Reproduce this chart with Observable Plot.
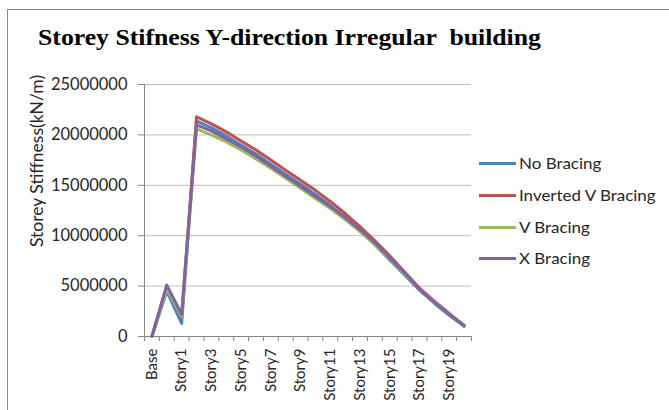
<!DOCTYPE html>
<html><head><meta charset="utf-8">
<script src="https://cdn.jsdelivr.net/npm/d3@7"></script>
<script src="https://cdn.jsdelivr.net/npm/@observablehq/plot@0.6"></script>
<style>
body{margin:0;background:#fff;}
#wrap{position:relative;width:669px;height:410px;overflow:hidden;font-family:Lato,"Open Sans",sans-serif;}
#frame{position:absolute;left:7px;top:9px;width:700px;height:450px;border:1px solid #8a8a8a;}
#title{position:absolute;left:38px;top:24px;line-height:1;font:bold 24px "Liberation Serif","Times New Roman",serif;color:#000;white-space:pre;transform:scaleX(1.072);transform-origin:0 0;}
#ytitle{position:absolute;left:36px;top:161px;transform:translate(-50%,-50%) rotate(-90deg);font-size:17.5px;color:#262626;white-space:nowrap;}
.item{position:absolute;left:479px;display:flex;align-items:center;white-space:nowrap;font-size:15px;color:#262626;}
.sw{width:37px;height:3px;margin-right:3px;}
.tx{display:inline-block;transform:scaleX(1.13);transform-origin:0 50%;}
#chart{position:absolute;left:0;top:0;}
</style></head>
<body>
<div id="wrap">
  <div id="frame"></div>
  <div id="chart"></div>
  <div id="title">Storey Stifness Y-direction Irregular  building</div>
  <div id="ytitle">Storey Stiffness(kN/m)</div>
  <div id="legend"></div>
</div>
<script>
const categories = ["Base","Plinth","Story1","Story2","Story3","Story4","Story5","Story6","Story7","Story8","Story9","Story10","Story11","Story12","Story13","Story14","Story15","Story16","Story17","Story18","Story19","Story20"];
const seriesNames = ["No Bracing","Inverted V Bracing","V Bracing","X Bracing"];
const seriesColors = ["#4F81BD","#C0504D","#9BBB59","#8064A2"];
const noBracing = [0,4500000,1300000,21400000,20700000,19900000,19000000,18100000,17100000,16100000,15100000,14100000,13000000,11800000,10500000,9100000,7600000,6100000,4600000,3300000,2100000,1000000];
const invertedV = [0,5000000,2000000,21800000,21100000,20300000,19400000,18500000,17500000,16500000,15500000,14500000,13400000,12200000,10900000,9500000,8000000,6400000,4800000,3500000,2300000,1100000];
const vBracing  = [0,4700000,2000000,20600000,20000000,19300000,18500000,17600000,16700000,15700000,14700000,13700000,12700000,11600000,10400000,9100000,7700000,6200000,4700000,3400000,2200000,1100000];
const xBracing  = [0,5100000,2200000,21000000,20400000,19600000,18800000,17900000,16900000,15900000,14900000,13900000,12900000,11800000,10600000,9300000,7800000,6300000,4700000,3400000,2200000,1100000];
const yTicks = [0,5000000,10000000,15000000,20000000,25000000];

const allSeries = [noBracing, invertedV, vBracing, xBracing];
const rows = [];
allSeries.forEach((vals, s) => vals.forEach((v, i) => rows.push({series: seriesNames[s], i, value: v})));

const axisGray = "#868686";
const chart = Plot.plot({
  width: 669, height: 410,
  marginLeft: 144, marginRight: 198, marginTop: 84, marginBottom: 74,
  style: {fontFamily: "Lato, 'Open Sans', sans-serif", fontSize: "15px", color: "#262626", background: "transparent"},
  x: {domain: [-0.5, categories.length - 0.5], axis: null},
  y: {domain: [0, 25000000], axis: null},
  color: {domain: seriesNames, range: seriesColors},
  marks: [
    Plot.gridY(yTicks.slice(1), {stroke: "#bebebe", strokeOpacity: 1}),
    Plot.axisX({ticks: d3.range(-0.5, categories.length, 1), tickFormat: () => "", tickSize: 5, stroke: axisGray, label: null}),
    Plot.axisX({ticks: d3.range(0, categories.length, 2), tickFormat: i => categories[i], tickSize: 0, tickPadding: 12, tickRotate: -90, fontSize: 15, label: null, fill: "#262626"}),
    Plot.axisY({ticks: yTicks, tickFormat: d => String(d), tickSize: 6, tickPadding: 11, stroke: axisGray, label: null, fontSize: 16.5, fill: "#262626"}),
    Plot.ruleY([0], {stroke: axisGray}),
    Plot.ruleX([-0.5], {stroke: axisGray}),
    Plot.line(rows, {x: "i", y: "value", z: "series", stroke: "series", strokeWidth: 3, strokeLinejoin: "round"})
  ]
});
document.getElementById("chart").appendChild(chart);

const legendCenters = [163, 195, 227, 258];
const legend = document.getElementById("legend");
seriesNames.forEach((name, k) => {
  const it = document.createElement("div");
  it.className = "item";
  it.style.top = (legendCenters[k] - 10) + "px";
  it.style.height = "20px";
  const sw = document.createElement("span");
  sw.className = "sw";
  sw.style.background = seriesColors[k];
  const tx = document.createElement("span");
  tx.className = "tx";
  tx.textContent = name;
  it.appendChild(sw); it.appendChild(tx);
  legend.appendChild(it);
});
</script>
</body></html>
